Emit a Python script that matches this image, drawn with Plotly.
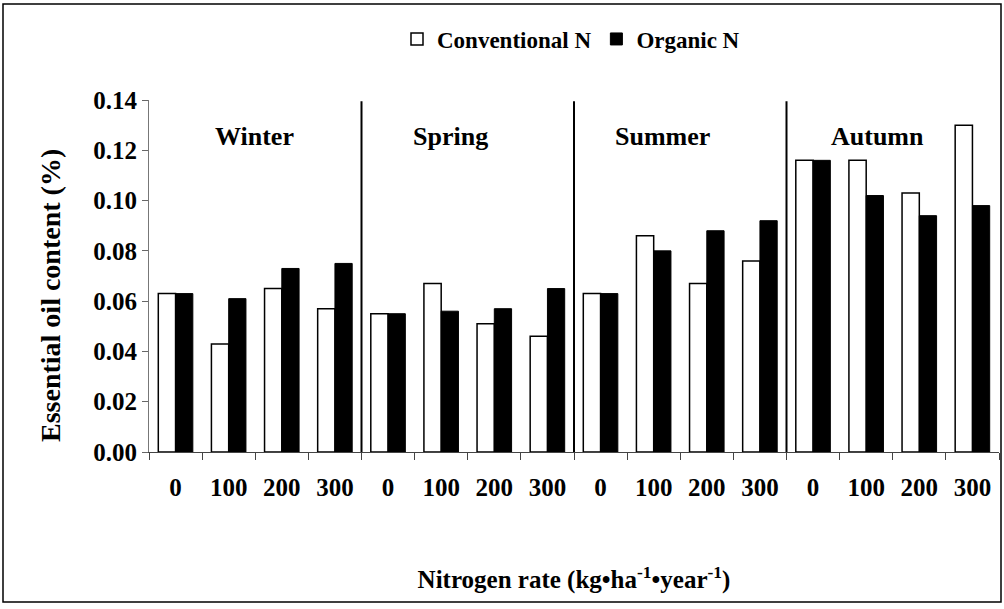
import plotly.graph_objects as go

# ---- data ----
seasons = ["Winter", "Spring", "Summer", "Autumn"]
rates = ["0", "100", "200", "300"]
conventional_n = [0.063, 0.043, 0.065, 0.057,
                  0.055, 0.067, 0.051, 0.046,
                  0.063, 0.086, 0.067, 0.076,
                  0.116, 0.116, 0.103, 0.130]
organic_n = [0.063, 0.061, 0.073, 0.075,
             0.055, 0.056, 0.057, 0.065,
             0.063, 0.080, 0.088, 0.092,
             0.116, 0.102, 0.094, 0.098]
y_ticks = [0.00, 0.02, 0.04, 0.06, 0.08, 0.10, 0.12, 0.14]

categories = [f"{s} {r}" for s in seasons for r in rates]
tick_text = rates * len(seasons)

# ---- layout constants ----
W, H = 1004, 609
ML, MR, MT, MB = 149, 5, 100, 157
PW, PH = W - ML - MR, H - MT - MB
FONT = "Liberation Serif, Times New Roman, serif"
season_x = [1.495, 5.166, 9.157, 13.205]
season_y = 0.1253


def px_x(p):
    return (p - ML) / PW


def px_y(p):
    return (H - MB - p) / PH


def font(size):
    return dict(family=FONT, size=size, color="black", weight="bold")


fig = go.Figure()
fig.add_trace(go.Bar(
    x=categories, y=conventional_n, name="Conventional N",
    marker=dict(color="white", line=dict(color="black", width=1.5)),
))
fig.add_trace(go.Bar(
    x=categories, y=organic_n, name="Organic N",
    marker=dict(color="black", line=dict(color="black", width=1)),
))

shapes = []
# season separators
for i in range(1, len(seasons)):
    xpos = i * len(rates) - 0.5
    shapes.append(dict(type="line", xref="x", yref="y", x0=xpos, x1=xpos,
                       y0=0, y1=0.1395, line=dict(color="black", width=2)))
# outer border
shapes.append(dict(type="rect", xref="paper", yref="paper",
                   x0=px_x(3), x1=px_x(1001), y0=px_y(602), y1=px_y(4),
                   line=dict(color="black", width=1.5), fillcolor="rgba(0,0,0,0)",
                   layer="below"))

annotations = []
for s, sx in zip(seasons, season_x):
    annotations.append(dict(x=sx, y=season_y, xref="x", yref="y", text=s,
                            showarrow=False, xanchor="center", yanchor="middle",
                            font=font(26)))
# y-axis title (placed as in the reference, slightly below the plot centre)
annotations.append(dict(x=px_x(50), y=px_y(296), xref="paper", yref="paper",
                        text="Essential oil content (%)", textangle=-90,
                        showarrow=False, xanchor="center", yanchor="middle",
                        font=font(28)))

fig.update_layout(
    width=W, height=H,
    margin=dict(l=ML, r=MR, t=MT, b=MB, autoexpand=False),
    paper_bgcolor="white", plot_bgcolor="white",
    font=font(25),
    barmode="group", bargap=0.35, bargroupgap=0,
    showlegend=True,
    legend=dict(orientation="h", x=px_x(571), xanchor="center", y=px_y(39), yanchor="middle",
                font=font(23), itemwidth=30, traceorder="normal",
                bgcolor="rgba(0,0,0,0)"),
    shapes=shapes,
    annotations=annotations,
    xaxis=dict(
        type="category", tickmode="array", tickvals=categories, ticktext=tick_text,
        tickson="boundaries", ticks="outside", ticklen=7, tickcolor="#444", tickwidth=1,
        showline=True, linecolor="#444", linewidth=1, showgrid=False, zeroline=False,
        ticklabelstandoff=13,
        tickfont=font(25),
        title=dict(text="Nitrogen rate (kg•ha<sup>-1</sup>•year<sup>-1</sup>)",
                   font=font(25), standoff=70),
        range=[-0.5, 15.5], automargin=False,
    ),
    yaxis=dict(
        range=[0, 0.14], tickmode="array", tickvals=y_ticks, tickformat=".2f",
        ticks="outside", ticklen=6, tickcolor="#666", tickwidth=1,
        showline=True, linecolor="#777", linewidth=1, showgrid=False, zeroline=False,
        tickfont=font(25),
        automargin=False,
    ),
)

fig.write_html("out.html", config={"displayModeBar": False},
               post_script="document.body.style.margin='0';")
